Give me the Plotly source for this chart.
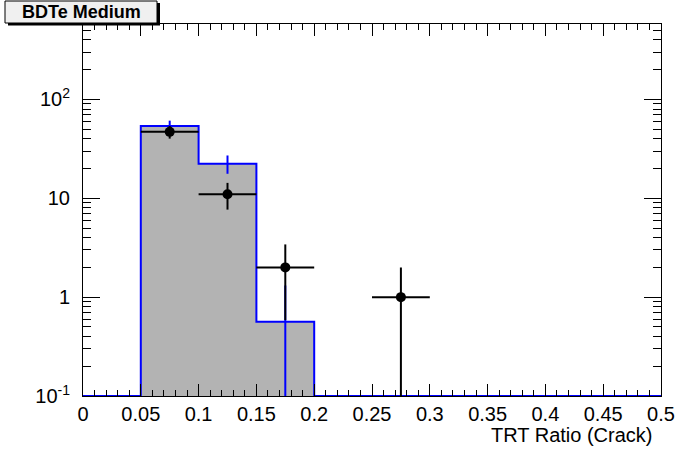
import numpy as np
import plotly.graph_objects as go

# ---- data ----
bin_edges = [0.0, 0.05, 0.1, 0.15, 0.2, 0.25, 0.3, 0.35, 0.4, 0.45, 0.5]
mc_values = [0.0, 53.7, 22.4, 0.563, 0.0, 0.0, 0.0, 0.0, 0.0, 0.0]
mc_errors = [0.0, 7.3, 4.7, 0.75, 0.0, 0.0, 0.0, 0.0, 0.0, 0.0]
data_x = [0.075, 0.125, 0.175, 0.275]
data_y = [47, 11, 2, 1]
x_ticks = [0, 0.05, 0.1, 0.15, 0.2, 0.25, 0.3, 0.35, 0.4, 0.45, 0.5]
x_tick_labels = ["0", "0.05", "0.1", "0.15", "0.2", "0.25", "0.3", "0.35", "0.4", "0.45", "0.5"]
y_ticks = [0.1, 1, 10, 100]
y_tick_labels = ["10<sup>-1</sup>", "1", "10", "10<sup>2</sup>"]
title_text = "BDTe Medium"
x_title = "TRT Ratio (Crack)"

W, H = 696, 472
L, R, T, B = 83, 35, 24, 76
pw, ph = W - L - R, H - T - B
ymin_log, ymax_log = -1.0, 2.763
ymin = 10 ** ymin_log

def px(x):
    return (x - L) / pw

def py(y):
    return (H - B - y) / ph

edges = np.array(bin_edges)
centers = (edges[:-1] + edges[1:]) / 2
widths = np.diff(edges)
mc = np.array(mc_values)
mce = np.array(mc_errors)

fig = go.Figure()

# grey filled histogram
nz = mc > 0
fig.add_trace(go.Bar(x=centers[nz], y=mc[nz], width=widths[nz],
                     marker=dict(color="#b3b3b3", line=dict(width=0)),
                     hoverinfo="skip", showlegend=False))

# blue outline (step)
step_y = np.where(mc > 0, mc, ymin)
fig.add_trace(go.Scatter(x=edges, y=np.append(step_y, step_y[-1]), mode="lines",
                         line=dict(color="#0000ff", width=2, shape="hv"),
                         hoverinfo="skip", showlegend=False, cliponaxis=True))

# blue MC error bars
lo = np.maximum(mc[nz] - mce[nz], 1e-4)
fig.add_trace(go.Scatter(x=centers[nz], y=mc[nz], mode="markers",
                         marker=dict(size=0.1, color="rgba(0,0,0,0)"),
                         error_y=dict(type="data", array=mce[nz], arrayminus=mc[nz] - lo,
                                      color="#0000ff", thickness=2, width=0),
                         hoverinfo="skip", showlegend=False))

# data points
dy = np.array(data_y, dtype=float)
derr = np.sqrt(dy)
dlo = np.maximum(dy - derr, 1e-4)
fig.add_trace(go.Scatter(x=data_x, y=dy, mode="markers",
                         marker=dict(size=10, color="black", symbol="circle"),
                         error_y=dict(type="data", array=derr, arrayminus=dy - dlo,
                                      color="black", thickness=2, width=0),
                         error_x=dict(type="constant", value=0.025,
                                      color="black", thickness=2, width=0),
                         hoverinfo="skip", showlegend=False))

tickfont = dict(family="Liberation Sans, Arial, sans-serif", size=20, color="black")

x_minor = [round(v, 3) for v in np.arange(0, 0.5001, 0.01)]
y_minor = [m * 10 ** e for e in range(-1, 3) for m in range(2, 10)]

fig.update_layout(
    width=W, height=H,
    margin=dict(l=L, r=R, t=T, b=B, autoexpand=False),
    paper_bgcolor="white", plot_bgcolor="white",
    bargap=0,
    xaxis=dict(range=[0, 0.5], tickvals=x_ticks, ticktext=x_tick_labels,
               ticks="inside", ticklen=12, tickwidth=1, tickcolor="black",
               showline=True, linecolor="black", linewidth=1, mirror="allticks",
               showgrid=False, zeroline=False, tickfont=tickfont, automargin=False,
               minor=dict(tickvals=x_minor, ticks="inside", ticklen=6,
                          tickcolor="black", tickwidth=1, showgrid=False)),
    yaxis=dict(type="log", range=[ymin_log, ymax_log], tickvals=y_ticks, ticktext=y_tick_labels,
               ticks="inside", ticklen=17, tickwidth=1, tickcolor="black",
               showline=True, linecolor="black", linewidth=1, mirror="allticks",
               showgrid=False, zeroline=False, tickfont=tickfont, ticklabelstandoff=8,
               automargin=False,
               minor=dict(tickvals=y_minor, ticks="inside", ticklen=8,
                          tickcolor="black", tickwidth=1, showgrid=False)),
    shapes=[
        dict(type="rect", xref="paper", yref="paper",
             x0=px(8), x1=px(160), y0=py(25.5), y1=py(3),
             fillcolor="black", line=dict(width=0)),
        dict(type="rect", xref="paper", yref="paper",
             x0=px(5), x1=px(157), y0=py(23), y1=py(1),
             fillcolor="#f0f0f0", line=dict(color="black", width=1)),
    ],
    annotations=[
        dict(text="<b>" + title_text + "</b>", xref="paper", yref="paper",
             x=px(81), y=py(12.5), xanchor="center", yanchor="middle", showarrow=False,
             font=dict(family="Liberation Sans, Arial, sans-serif", size=18, color="black")),
        dict(text=x_title, xref="paper", yref="paper",
             x=px(655), y=py(435), xanchor="right", yanchor="middle", showarrow=False,
             font=tickfont),
    ],
)

fig.write_html("out.html",
               config={"displayModeBar": False},
               post_script="document.body.style.margin='0';document.body.style.overflow='hidden';")
